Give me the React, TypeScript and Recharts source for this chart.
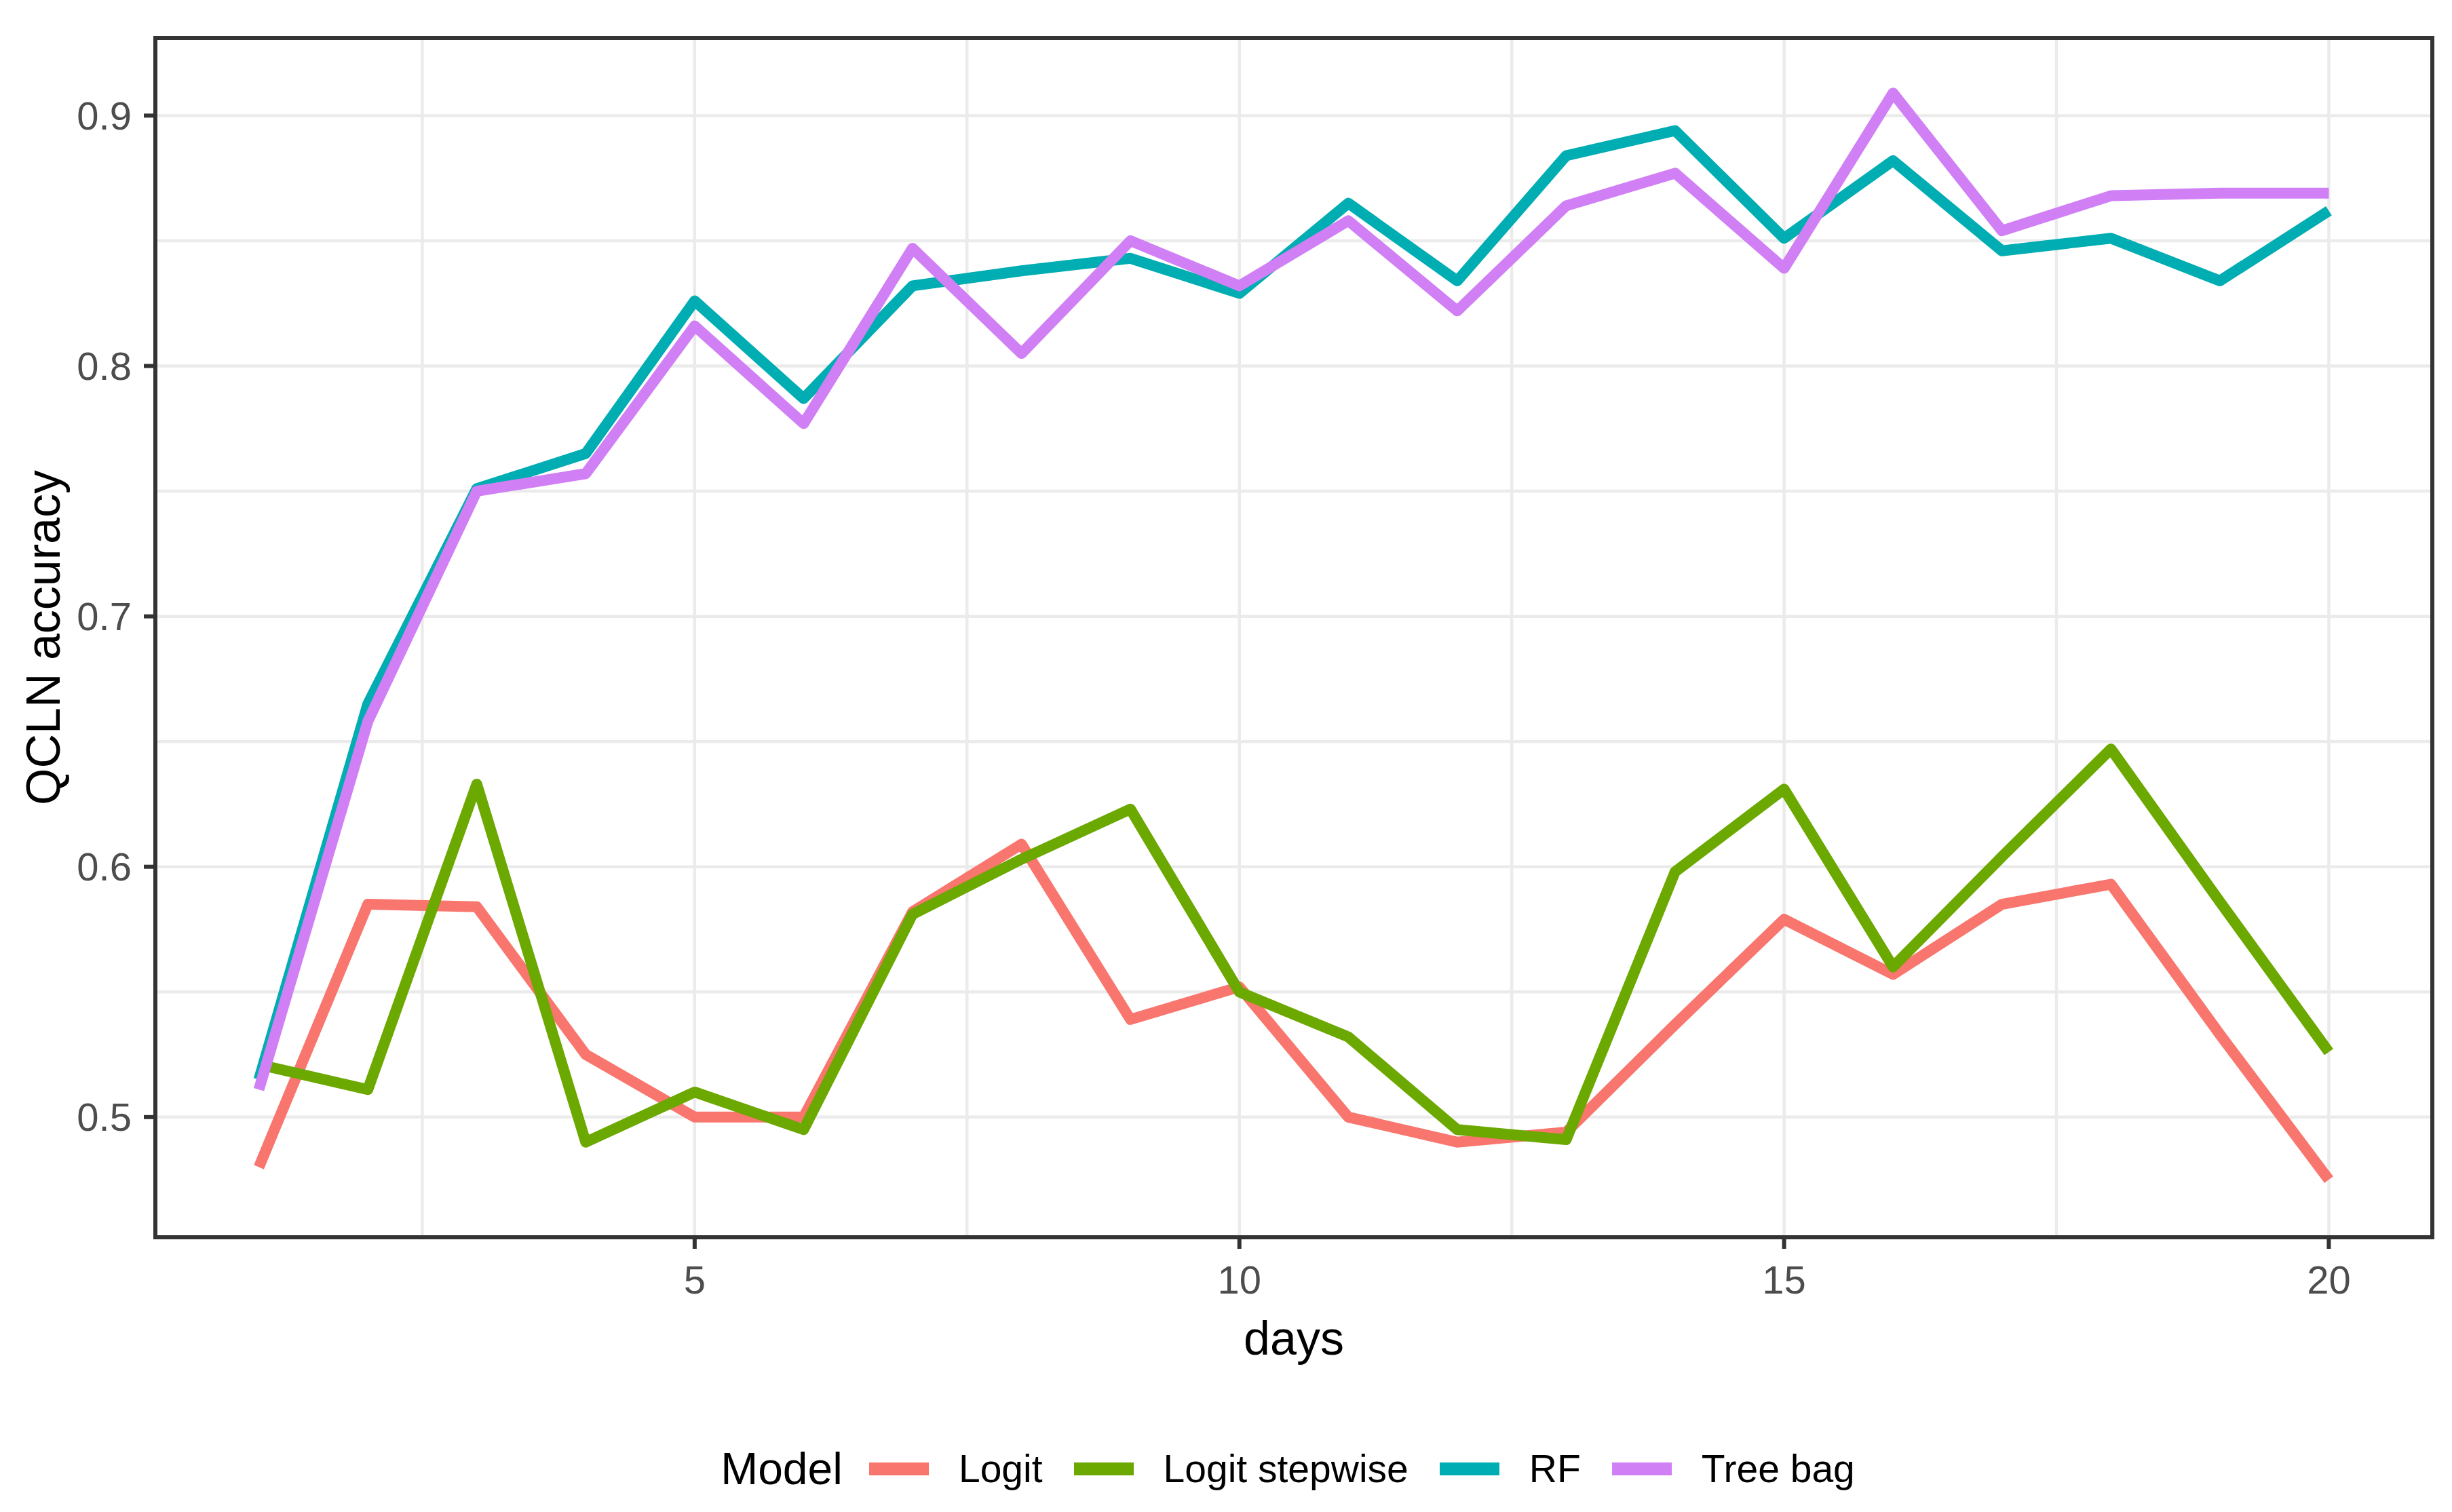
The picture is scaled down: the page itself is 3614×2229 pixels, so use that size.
import React from "react";
import { LineChart, Line, XAxis, YAxis, CartesianGrid, Legend, ReferenceArea } from "recharts";

const FONT = '"Liberation Sans", Arial, sans-serif';

const days = [1, 2, 3, 4, 5, 6, 7, 8, 9, 10, 11, 12, 13, 14, 15, 16, 17, 18, 19, 20];
const logit = [0.48, 0.585, 0.584, 0.525, 0.5, 0.5, 0.582, 0.609, 0.539, 0.552, 0.5, 0.49, 0.494, 0.537, 0.579, 0.557, 0.585, 0.593, 0.533, 0.475];
const logitStepwise = [0.521, 0.511, 0.633, 0.49, 0.51, 0.495, 0.581, 0.603, 0.623, 0.55, 0.532, 0.495, 0.491, 0.598, 0.631, 0.56, 0.604, 0.647, 0.586, 0.526];
const rf = [0.515, 0.665, 0.751, 0.765, 0.826, 0.787, 0.832, 0.838, 0.843, 0.829, 0.865, 0.834, 0.884, 0.894, 0.851, 0.882, 0.846, 0.851, 0.834, 0.862];
const treeBag = [0.511, 0.658, 0.75, 0.757, 0.816, 0.777, 0.847, 0.805, 0.85, 0.832, 0.858, 0.822, 0.864, 0.877, 0.839, 0.909, 0.854, 0.868, 0.869, 0.869];

const xTicks = [5, 10, 15, 20];
const xGrid = [2.5, 5, 7.5, 10, 12.5, 15, 17.5, 20];
const yTicks = [0.5, 0.6, 0.7, 0.8, 0.9];
const yGrid = [0.5, 0.55, 0.6, 0.65, 0.7, 0.75, 0.8, 0.85, 0.9];
const xDomain = [0.05, 20.95];
const yDomain = [0.452, 0.931];

const series = [
  { key: "logit", name: "Logit", color: "#F8766D", values: logit },
  { key: "stepwise", name: "Logit stepwise", color: "#6BA800", values: logitStepwise },
  { key: "rf", name: "RF", color: "#00ADB2", values: rf },
  { key: "treebag", name: "Tree bag", color: "#D07FF5", values: treeBag },
];

const data = days.map((d, i) => {
  const row: any = { day: d };
  series.forEach((s) => (row[s.key] = s.values[i]));
  return row;
});

const LegendBox = () => (
  <div style={{ display: "flex", alignItems: "center", justifyContent: "center", height: 80, fontFamily: FONT, color: "#000" }}>
    <span style={{ fontSize: 66, marginRight: 39 }}>Model</span>
    {series.map((s, i) => (
      <div key={s.key} style={{ display: "flex", alignItems: "center", marginRight: i < series.length - 1 ? 46 : 0 }}>
        <div style={{ width: 88, height: 19, background: s.color, marginRight: 44 }} />
        <span style={{ fontSize: 57 }}>{s.name}</span>
      </div>
    ))}
  </div>
);

const yLabel = (props: any) => {
  const vb = props.viewBox;
  const cy = vb.y + vb.height / 2;
  return (
    <text x={64} y={cy} transform={`rotate(-90, 64, ${cy})`} textAnchor="middle" dominantBaseline="central"
      fontSize={70} fontFamily={FONT} fill="#000">
      QCLN accuracy
    </text>
  );
};

const xLabel = (props: any) => {
  const vb = props.viewBox;
  return (
    <text x={vb.x + vb.width / 2} y={vb.y + 173} textAnchor="middle" fontSize={70} fontFamily={FONT} fill="#000">
      days
    </text>
  );
};

export default function App() {
  return (
    <div style={{ position: "absolute", left: 0, top: 0, width: 3614, height: 2229, background: "#fff" }}>
      <LineChart width={3614} height={2229} data={data} margin={{ top: 56, right: 29, bottom: 125, left: 69 }}>
        <CartesianGrid horizontalValues={yGrid} verticalValues={xGrid} stroke="#EBEBEB" strokeWidth={4.5} />
        <XAxis dataKey="day" type="number" domain={xDomain} ticks={xTicks} allowDataOverflow height={200}
          axisLine={false} tickSize={17} tickMargin={25} tickLine={{ stroke: "#333333", strokeWidth: 6 }}
          tick={{ fill: "#4D4D4D", fontSize: 58, fontFamily: FONT }} label={xLabel} />
        <YAxis type="number" domain={yDomain} ticks={yTicks} allowDataOverflow width={160}
          axisLine={false} tickSize={17} tickMargin={18} tickLine={{ stroke: "#333333", strokeWidth: 6 }}
          tickFormatter={(v: number) => v.toFixed(1)}
          tick={{ fill: "#4D4D4D", fontSize: 58, fontFamily: FONT }} label={yLabel} />
        {series.map((s) => (
          <Line key={s.key} type="linear" dataKey={s.key} name={s.name} stroke={s.color} strokeWidth={16}
            strokeLinejoin="round" strokeLinecap="butt" dot={false} activeDot={false} isAnimationActive={false} />
        ))}
        <ReferenceArea x1={xDomain[0]} x2={xDomain[1]} y1={yDomain[0]} y2={yDomain[1]} fill="none" fillOpacity={0}
          stroke="#333333" strokeWidth={6} ifOverflow="visible" />
        <Legend verticalAlign="bottom" content={LegendBox}
          wrapperStyle={{ position: "absolute", left: 220, top: 2125, bottom: "auto", width: 3356, height: 80 }} />
      </LineChart>
    </div>
  );
}
